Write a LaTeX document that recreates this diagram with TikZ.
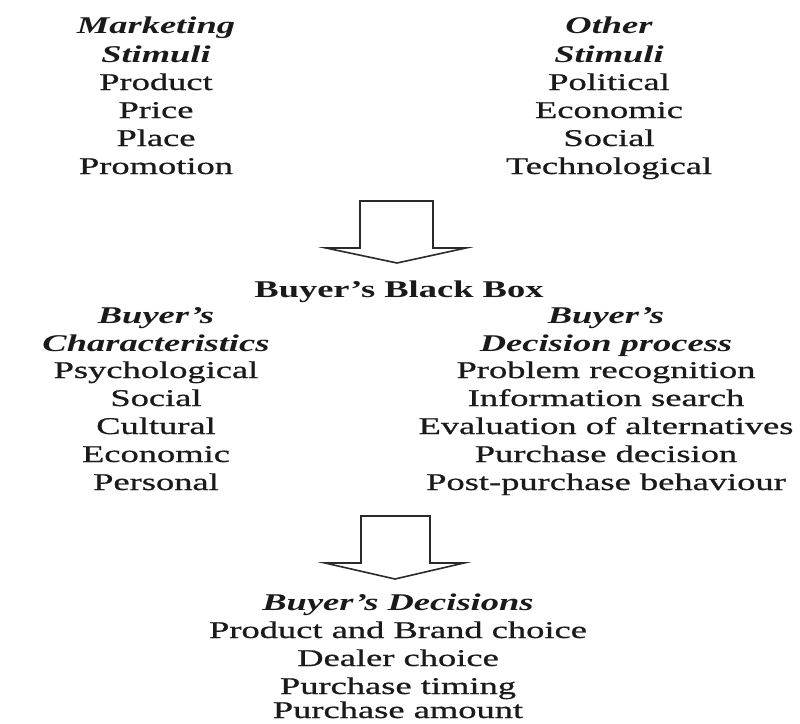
\documentclass[tikz,border=0pt]{standalone}
\usepackage{fontspec}
\setmainfont{Liberation Serif}[UprightFeatures={FakeBold=0.6},ItalicFeatures={FakeBold=0.6}]
\usepackage{graphicx}
\usetikzlibrary{calc}
\definecolor{inkc}{HTML}{1A1A1A}
\definecolor{arrowc}{HTML}{2A2A2A}
\newcommand\stretchedtext[1]{\scalebox{1.52}[1]{#1}}
\newcommand\apos{\char"0027\relax}
\tikzset{
  txt/.style={inner sep=0pt, anchor=base, text=inkc, font=\fontsize{24}{28}\selectfont},
  hd/.style={txt, font=\fontsize{24}{28}\selectfont\bfseries\itshape},
  bhd/.style={txt, font=\fontsize{24}{28}\selectfont\bfseries},
  blockarrow/.style={draw=arrowc, line width=1.6pt, line join=miter, fill=white}
}
\begin{document}
\begin{tikzpicture}[x=1pt,y=-1pt]
\useasboundingbox[fill=white] (0,0) rectangle (800,723);
% top left
\node[hd]  (ms1) at (156,33)  {\stretchedtext{Marketing}};
\node[hd]  (ms2) at (156,62)  {\stretchedtext{Stimuli}};
\node[txt] (ms3) at (156,90)  {\stretchedtext{Product}};
\node[txt] (ms4) at (156,118) {\stretchedtext{Price}};
\node[txt] (ms5) at (156,146) {\stretchedtext{Place}};
\node[txt] (ms6) at (156,174) {\stretchedtext{Promotion}};
% top right
\node[hd]  (os1) at (609,33)  {\stretchedtext{Other}};
\node[hd]  (os2) at (609,62)  {\stretchedtext{Stimuli}};
\node[txt] (os3) at (609,90)  {\stretchedtext{Political}};
\node[txt] (os4) at (609,118) {\stretchedtext{Economic}};
\node[txt] (os5) at (609,146) {\stretchedtext{Social}};
\node[txt] (os6) at (609,174) {\stretchedtext{Technological}};
% arrow 1
\coordinate (a1) at (397,201);
\draw[blockarrow] ($(a1)+(-37,0)$) -- ($(a1)+(36,0)$) -- ($(a1)+(36,47)$) -- ($(a1)+(69,47)$)
  -- ($(a1)+(0,62)$) -- ($(a1)+(-71,47)$) -- ($(a1)+(-37,47)$) -- cycle;
% black box
\node[bhd] (bbb) at (399,297) {\stretchedtext{Buyer\apos s Black Box}};
\node[hd]  (bc1) at (156,323) {\stretchedtext{Buyer\apos s}};
\node[hd]  (bc2) at (156,351) {\stretchedtext{Characteristics}};
\node[txt] (bc3) at (156,378) {\stretchedtext{Psychological}};
\node[txt] (bc4) at (156,406) {\stretchedtext{Social}};
\node[txt] (bc5) at (156,434) {\stretchedtext{Cultural}};
\node[txt] (bc6) at (156,462) {\stretchedtext{Economic}};
\node[txt] (bc7) at (156,490) {\stretchedtext{Personal}};
\node[hd]  (bd1) at (606,323) {\stretchedtext{Buyer\apos s}};
\node[hd]  (bd2) at (606,351) {\stretchedtext{Decision process}};
\node[txt] (bd3) at (606,378) {\stretchedtext{Problem recognition}};
\node[txt] (bd4) at (606,406) {\stretchedtext{Information search}};
\node[txt] (bd5) at (606,434) {\stretchedtext{Evaluation of alternatives}};
\node[txt] (bd6) at (606,462) {\stretchedtext{Purchase decision}};
\node[txt] (bd7) at (606,490) {\stretchedtext{Post-purchase behaviour}};
% arrow 2
\coordinate (a2) at (395,516);
\draw[blockarrow] ($(a2)+(-34,0)$) -- ($(a2)+(35,0)$) -- ($(a2)+(35,47)$) -- ($(a2)+(69,47)$)
  -- ($(a2)+(0,63)$) -- ($(a2)+(-70,47)$) -- ($(a2)+(-34,47)$) -- cycle;
% decisions
\node[hd]  (dc1) at (398,610) {\stretchedtext{Buyer\apos s Decisions}};
\node[txt] (dc2) at (398,638) {\stretchedtext{Product and Brand choice}};
\node[txt] (dc3) at (398,666) {\stretchedtext{Dealer choice}};
\node[txt] (dc4) at (398,694) {\stretchedtext{Purchase timing}};
\node[txt] (dc5) at (398,718) {\stretchedtext{Purchase amount}};
\end{tikzpicture}
\end{document}
